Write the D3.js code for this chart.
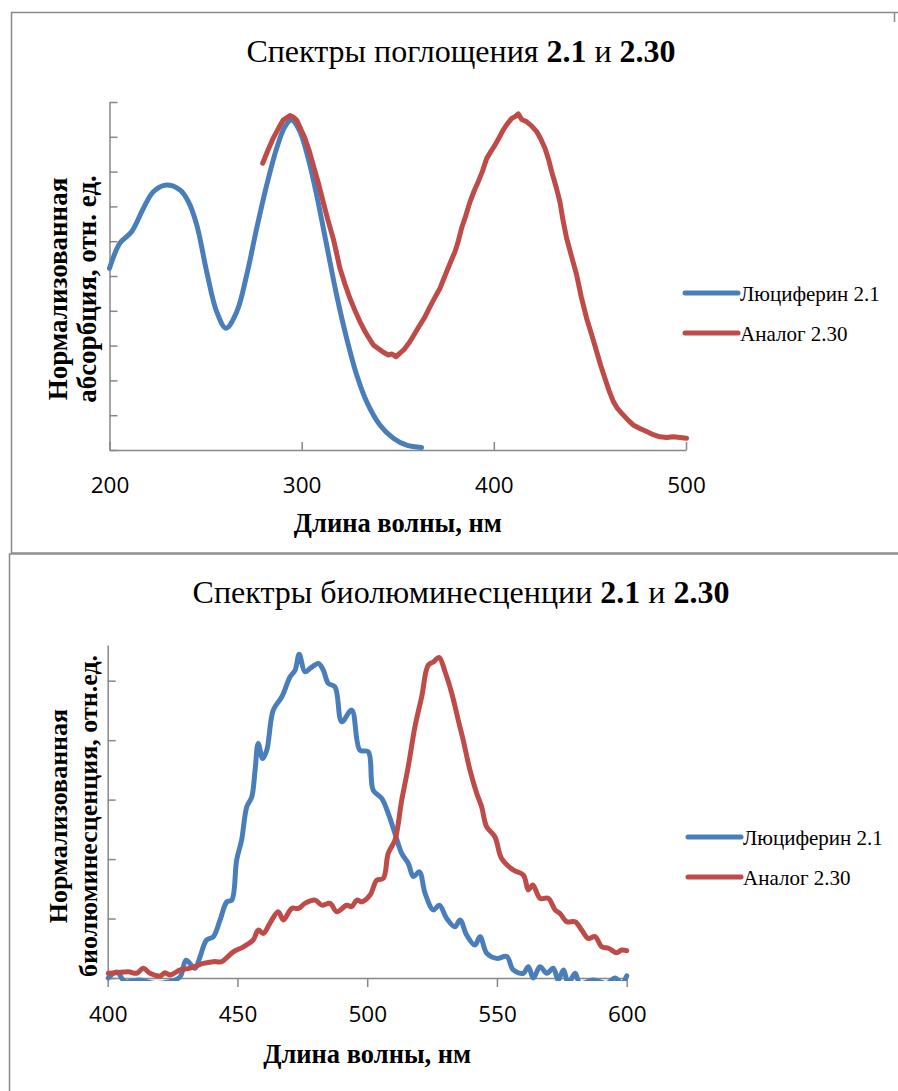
<!DOCTYPE html>
<html>
<head>
<meta charset="utf-8">
<script src="https://cdn.jsdelivr.net/npm/d3@7"></script>
<style>
  body { margin: 0; background: #fff; }
  .serif { font-family: "Liberation Serif", "DejaVu Serif", serif; }
</style>
</head>
<body>
<div id="chart"></div>
<script>
// series names and colours
const seriesNames = ["Люциферин 2.1", "Аналог 2.30"];
const seriesColors = ["#4a7ebb", "#be4b48"];

// absorption panel
const absXTicks = [200, 300, 400, 500];
const absYTicks = [0, 0.1, 0.2, 0.3, 0.4, 0.5, 0.6, 0.7, 0.8, 0.9, 1.0];
const absLuciferin = [
  [200, 0.522], [205.5, 0.595], [211.5, 0.627], [217.6, 0.694], [222.8, 0.742],
  [228.9, 0.761], [236.7, 0.747], [241, 0.714], [245.4, 0.647], [250.6, 0.512],
  [255.8, 0.397], [260.6, 0.350], [266.2, 0.397], [271.4, 0.503], [276.6, 0.637],
  [281.8, 0.761], [287, 0.867], [291.3, 0.929], [294.8, 0.948], [299.1, 0.915],
  [303.4, 0.838], [307.8, 0.733], [313, 0.589], [318.2, 0.445], [323.4, 0.321],
  [328.6, 0.216], [333.8, 0.139], [340.7, 0.072], [347.7, 0.034], [354.6, 0.014],
  [362.4, 0.007]
];
const absAnalog = [
  [279.7, 0.824], [282.5, 0.862], [285.2, 0.896], [288, 0.925], [290.4, 0.948],
  [293.9, 0.961], [295.5, 0.957], [297.4, 0.948], [301.7, 0.896], [304, 0.858],
  [306, 0.819], [308.5, 0.771], [311.2, 0.713], [313.5, 0.664], [316.4, 0.608],
  [318, 0.570], [319.9, 0.522], [322.5, 0.477], [325.1, 0.436], [327.5, 0.404],
  [330.3, 0.369], [333, 0.340], [335, 0.322], [337.3, 0.302], [340, 0.291],
  [342.5, 0.281], [345.1, 0.273], [347, 0.276], [349, 0.268], [351.1, 0.278],
  [353.5, 0.290], [356.3, 0.311], [358.8, 0.334], [361.5, 0.359], [364, 0.381],
  [366.8, 0.412], [369.5, 0.440], [372, 0.465], [373.8, 0.490], [375.4, 0.512],
  [377.5, 0.540], [379.8, 0.570], [381.5, 0.600], [383.2, 0.637], [385.5, 0.675],
  [387.6, 0.713], [389.8, 0.745], [391.9, 0.771], [394, 0.800], [396.3, 0.838],
  [398.5, 0.858], [400.6, 0.876], [402.8, 0.898], [404.9, 0.920], [407, 0.937],
  [409.3, 0.953], [411, 0.958], [412.7, 0.966], [414.5, 0.950], [417.1, 0.943],
  [419.5, 0.932], [422.3, 0.915], [424.5, 0.893], [426.6, 0.867], [428.5, 0.835],
  [430.1, 0.800], [432.3, 0.758], [434.4, 0.713], [436, 0.660], [437.9, 0.608],
  [440.5, 0.555], [443.1, 0.503], [445.5, 0.440], [448.3, 0.378], [451, 0.330],
  [453.5, 0.283], [455.5, 0.245], [457.8, 0.206], [460, 0.170], [462.2, 0.139],
  [464.5, 0.118], [467.3, 0.101], [470, 0.085], [472.5, 0.072], [476, 0.062],
  [479.5, 0.053], [483, 0.044], [486.4, 0.038], [490, 0.036], [493.3, 0.038],
  [497, 0.036], [500.3, 0.034]
];

// bioluminescence panel
const bioXTicks = [400, 450, 500, 550, 600];
const bioYTicks = [0, 0.2, 0.4, 0.6, 0.8, 1.0];
const bioLuciferin = [
  [400.2, 0], [403.5, 0.02], [406.7, -0.012], [412.4, -0.007], [417.6, -0.018],
  [424, -0.012], [427.9, 0.004], [430.2, 0.06], [433.6, 0.033], [435.6, 0.072],
  [438.1, 0.128], [440.7, 0.139], [443.3, 0.195], [445.9, 0.256], [447.8, 0.262],
  [449.7, 0.397], [451.6, 0.464], [453.6, 0.576], [455.5, 0.609], [456.8, 0.699],
  [458, 0.789], [459.7, 0.738], [461.3, 0.766], [463.8, 0.901], [467.1, 0.946],
  [470.3, 1.013], [472.2, 1.035], [473.8, 1.089], [476, 1.030], [478, 1.041],
  [481.2, 1.058], [483.1, 1.035], [485, 0.991], [487.6, 0.979], [490.2, 0.862],
  [494, 0.901], [497.2, 0.766], [500.4, 0.761], [502.3, 0.632], [505.6, 0.604],
  [508.1, 0.554], [510.7, 0.486], [513.3, 0.419], [515.8, 0.386], [517.8, 0.341],
  [520.1, 0.357], [522.3, 0.285], [525.5, 0.229], [527.8, 0.245], [530.6, 0.201],
  [533.8, 0.172], [535.8, 0.195], [538.3, 0.145], [541.5, 0.111], [543.5, 0.139],
  [546.1, 0.083], [549.9, 0.066], [553.8, 0.072], [556.3, 0.027], [560.2, 0.016],
  [562.1, 0.038], [564, 0], [566.6, 0.038], [569.2, 0.016], [571.7, 0.033],
  [573.6, -0.007], [575.6, 0.027], [577.5, -0.018], [580.1, 0.016], [582, -0.018],
  [587.1, -0.007], [592.3, -0.018], [595.5, 0], [598.1, -0.018], [600, 0.007]
];
const bioAnalog = [
  [400.2, 0.016], [403.5, 0.018], [407.9, 0.021], [411.2, 0.016], [413.7, 0.033],
  [416.3, 0.016], [420.2, 0.007], [422.1, 0.018], [424, 0.01], [427.9, 0.027],
  [431.7, 0.033], [436.8, 0.049], [440.7, 0.055], [443.9, 0.055], [448.4, 0.088],
  [452.3, 0.105], [456.1, 0.128], [458, 0.161], [460, 0.150], [462.5, 0.184],
  [465.7, 0.223], [467.7, 0.195], [470.9, 0.234], [473.5, 0.234], [476, 0.251],
  [479.9, 0.262], [482.5, 0.245], [485.7, 0.251], [488.3, 0.223], [492.1, 0.245],
  [494, 0.240], [496, 0.262], [497.9, 0.256], [501.1, 0.279], [503.7, 0.329],
  [506.2, 0.335], [508.1, 0.419], [510.7, 0.464], [513.3, 0.598], [515.8, 0.710],
  [518.4, 0.845], [521, 0.946], [523.5, 1.052], [525.5, 1.063], [527.7, 1.078],
  [530, 1.030], [532.6, 0.957], [535.1, 0.867], [537, 0.800], [539.6, 0.699],
  [542.2, 0.621], [544.1, 0.576], [546, 0.509], [549.2, 0.475], [551.8, 0.402],
  [556.3, 0.363], [560.2, 0.346], [562.1, 0.296], [563.8, 0.313], [566.6, 0.268],
  [569.8, 0.268], [572.4, 0.229], [574.3, 0.217], [576.9, 0.189], [580.1, 0.189],
  [582.7, 0.161], [585.2, 0.133], [587.8, 0.139], [590.4, 0.105], [593, 0.100],
  [596.1, 0.085], [598.1, 0.094], [600, 0.092]
];

const width = 898, height = 1091;
const axisColor = "#878787";
const borderColor = "#8a8a8a";

const svg = d3.select("#chart")
  .append("svg")
  .attr("width", width)
  .attr("height", height);

// panel frames
svg.append("path")
  .attr("d", "M898,12.5 H11.5 V553 H898 M894.5,12.5 V22")
  .attr("fill", "none")
  .attr("stroke", borderColor)
  .attr("stroke-width", 1.5);
svg.append("path")
  .attr("d", "M898,554 H9.5 V1091")
  .attr("fill", "none")
  .attr("stroke", borderColor)
  .attr("stroke-width", 1.5);

const panels = [
  {
    id: "abs",
    xDomain: [200, 500], xRange: [109.5, 686],
    yDomain: [0, 1], yRange: [450, 102],
    xTicks: absXTicks, yTicks: absYTicks,
    xTickLen: -8, yTickLen: 8,
    series: [absLuciferin, absAnalog],
    curves: [d3.curveCatmullRom.alpha(0.5), d3.curveLinear],
    titleY: 62, titleParts: [["Спектры поглощения ", 400], ["2.1", 700], [" и ", 400], ["2.30", 700]],
    tickLabelY: 493,
    xTitleY: 532,
    yLabels: ["Нормализованная", "абсорбция, отн. ед."], yLabelX: [67, 96], yLabelY: 289, yLabelSize: 27,
    legendY: [293, 333], legendX: 685
  },
  {
    id: "bio",
    xDomain: [400, 600], xRange: [107.7, 626.7],
    yDomain: [0, 1.12], yRange: [978, 645],
    xTicks: bioXTicks, yTicks: bioYTicks,
    xTickLen: 9, yTickLen: 8,
    series: [bioLuciferin, bioAnalog],
    curves: [d3.curveCatmullRom.alpha(0.5), d3.curveCatmullRom.alpha(0.5)],
    titleY: 603, titleParts: [["Спектры биолюминесценции ", 400], ["2.1", 700], [" и ", 400], ["2.30", 700]],
    tickLabelY: 1022,
    xTitleY: 1063,
    yLabels: ["Нормализованная", "биолюминесценция, отн.ед."], yLabelX: [67, 97], yLabelY: 816, yLabelSize: 26,
    legendY: [837, 877], legendX: 688
  }
];

panels.forEach(p => {
  let x = d3.scaleLinear().domain(p.xDomain).range(p.xRange);
  let y = d3.scaleLinear().domain(p.yDomain).range(p.yRange);
  let g = svg.append("g");

  // title
  let title = g.append("text")
    .attr("class", "serif")
    .attr("x", 461)
    .attr("y", p.titleY)
    .attr("text-anchor", "middle")
    .style("font-size", "32px");
  p.titleParts.forEach(t => {
    title.append("tspan").attr("font-weight", t[1]).text(t[0]);
  });

  // X axis
  let xAxis = g.append("g")
    .attr("transform", "translate(0," + p.yRange[0] + ")")
    .call(d3.axisBottom(x).tickValues(p.xTicks).tickSize(p.xTickLen).tickSizeOuter(0).tickFormat(d3.format("d")));
  xAxis.select(".domain").attr("stroke", axisColor).attr("stroke-width", 1.5);
  xAxis.selectAll(".tick line").attr("stroke", axisColor).attr("stroke-width", 1.5);
  xAxis.selectAll(".tick text")
    .attr("y", p.tickLabelY - p.yRange[0])
    .attr("dy", 0)
    .style("font-family", "'Open Sans', sans-serif")
    .style("font-size", "22.5px")
    .attr("fill", "#000");

  // Y axis
  let yAxis = g.append("g")
    .attr("transform", "translate(" + p.xRange[0] + ",0)")
    .call(d3.axisLeft(y).tickValues(p.yTicks).tickSize(-p.yTickLen).tickSizeOuter(0).tickFormat(""));
  yAxis.select(".domain").attr("stroke", axisColor).attr("stroke-width", 1.5);
  yAxis.selectAll(".tick line").attr("stroke", axisColor).attr("stroke-width", 1.5);

  // axis titles
  g.append("text")
    .attr("class", "serif")
    .attr("x", (p.xRange[0] + p.xRange[1]) / 2)
    .attr("y", p.xTitleY)
    .attr("text-anchor", "middle")
    .style("font-size", "26.5px")
    .style("font-weight", "bold")
    .text("Длина волны, нм");

  p.yLabels.forEach((t, i) => {
    g.append("text")
      .attr("class", "serif")
      .attr("transform", "translate(" + p.yLabelX[i] + "," + p.yLabelY + ") rotate(-90)")
      .attr("text-anchor", "middle")
      .style("font-size", p.yLabelSize + "px")
      .style("font-weight", "bold")
      .text(t);
  });

  // clip to plot area
  svg.append("clipPath").attr("id", "clip-" + p.id)
    .append("rect")
    .attr("x", p.xRange[0] - 4)
    .attr("y", p.yRange[1] - 10)
    .attr("width", p.xRange[1] - p.xRange[0] + 8)
    .attr("height", p.yRange[0] - p.yRange[1] + 13);

  // lines
  p.series.forEach((data, i) => {
    g.append("path")
      .datum(data)
      .attr("clip-path", "url(#clip-" + p.id + ")")
      .attr("fill", "none")
      .attr("stroke", seriesColors[i])
      .attr("stroke-width", 5)
      .attr("stroke-linejoin", "round")
      .attr("stroke-linecap", "round")
      .attr("d", d3.line().curve(p.curves[i]).x(d => x(d[0])).y(d => y(d[1])));
  });

  // legend
  seriesNames.forEach((name, i) => {
    g.append("line")
      .attr("x1", p.legendX).attr("x2", p.legendX + 53)
      .attr("y1", p.legendY[i]).attr("y2", p.legendY[i])
      .attr("stroke", seriesColors[i])
      .attr("stroke-width", 5)
      .attr("stroke-linecap", "round");
    g.append("text")
      .attr("class", "serif")
      .attr("x", p.legendX + 55)
      .attr("y", p.legendY[i] + 8)
      .style("font-size", "21px")
      .text(name);
  });
});
</script>
</body>
</html>
